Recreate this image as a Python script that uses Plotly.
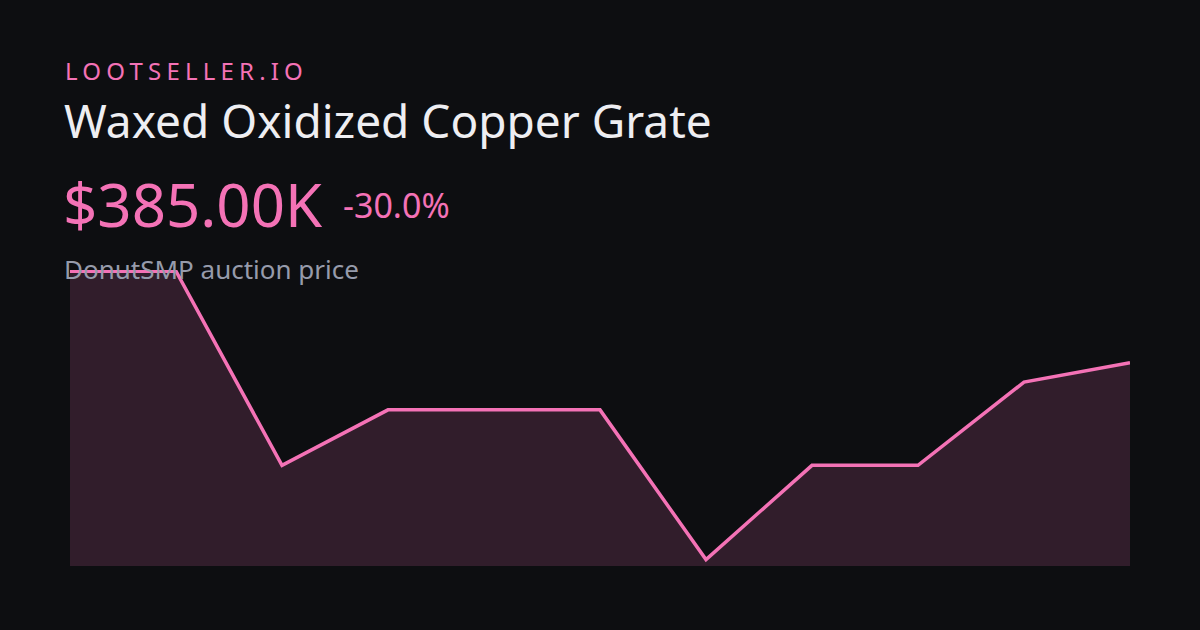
import plotly.graph_objects as go

# price history (thousands of $)
points = list(range(11))
prices_k = [550, 550, 200, 300, 300, 300, 30, 200, 200, 350, 385]

brand = "LOOTSELLER.IO"
item_name = "Waxed Oxidized Copper Grate"
price_label = "$385.00K"
change_label = "-30.0%"
subtitle = "DonutSMP auction price"

W, H = 1200, 630
ML, MR, MT, MB = 70, 70, 270, 64
BG = "#0d0e11"
PINK = "#f472b6"
FONT = "Noto Sans"


def paper(x, y):
    # pixel position (from top-left) -> paper coords of the plot area
    return (x - ML) / (W - ML - MR), (H - MB - y) / (H - MT - MB)


def label(text, x, y, size, color):
    px, py = paper(x, y)
    fig.add_annotation(text=text, x=px, y=py, xref="paper", yref="paper",
                       showarrow=False, xanchor="left", yanchor="middle",
                       font=dict(size=size, color=color, family=FONT))


fig = go.Figure()
fig.add_trace(go.Scatter(
    x=points, y=prices_k, mode="lines",
    line=dict(color=PINK, width=3.5),
    fill="tozeroy", fillcolor="rgba(244,114,182,0.16)",
    hoverinfo="skip", showlegend=False))

fig.update_layout(
    width=W, height=H,
    paper_bgcolor=BG, plot_bgcolor=BG,
    margin=dict(l=ML, r=MR, t=MT, b=MB),
    xaxis=dict(visible=False, range=[0, 10]),
    yaxis=dict(visible=False, range=[18.5, 552.2]),
    font=dict(family=FONT),
)

# brand is letter-spaced in the original
label('<span style="letter-spacing:5.2px">' + brand + "</span>", 63, 71, 24, PINK)
label(item_name, 62, 120, 46, "#eeeef2")
label(price_label, 61, 204, 60, PINK)
label(change_label, 341, 205, 34, PINK)
label(subtitle, 62, 269, 26, "#969bab")

fig.write_html("out.html", config={"displayModeBar": False},
               post_script="document.body.style.margin='0';")
